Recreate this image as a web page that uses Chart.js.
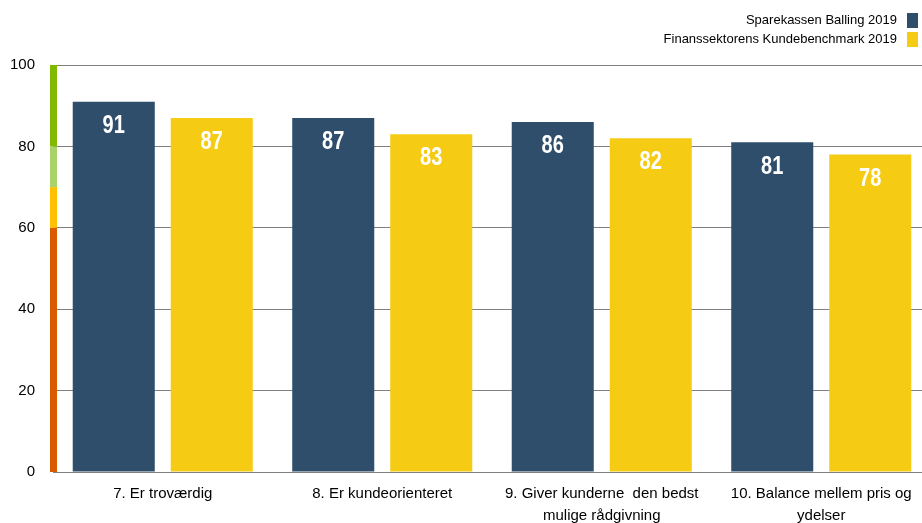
<!DOCTYPE html>
<html>
<head>
<meta charset="utf-8">
<script src="https://cdn.jsdelivr.net/npm/chart.js@4.4.1/dist/chart.umd.min.js"></script>
<style>
  html, body { margin: 0; padding: 0; background: #ffffff; overflow: hidden; }
  #wrap { width: 922px; height: 523px; position: relative; overflow: hidden; }
  #c { position: absolute; left: 0; top: 0; }
</style>
</head>
<body>
<div id="wrap"><canvas id="c" width="931" height="523"></canvas></div>
<script>
// Question labels (multi-line where the text wraps)
const categories = [
  '7. Er troværdig',
  '8. Er kundeorienteret',
  ['9. Giver kunderne  den bedst', 'mulige rådgivning'],
  ['10. Balance mellem pris og', 'ydelser']
];
const seriesNames = ['Sparekassen Balling 2019', 'Finanssektorens Kundebenchmark 2019'];
const ballingValues = [91, 87, 86, 81];
const benchmarkValues = [87, 83, 82, 78];
const yTicks = [0, 20, 40, 60, 80, 100];

// Score bands shown as a coloured strip beside the value axis
const bandLimits = [0, 60, 70, 80, 100];
const bandColors = ['#D95B00', '#FFC000', '#A9D36A', '#7FBA00'];

const BLUE = '#2E4E6B';
const YELLOW = '#F6CB14';

const scoreBands = {
  id: 'scoreBands',
  afterDraw(chart) {
    const { ctx, chartArea } = chart;
    const y = chart.scales.y;
    ctx.save();
    for (let i = 0; i < bandColors.length; i++) {
      const top = y.getPixelForValue(bandLimits[i + 1]);
      const bottom = y.getPixelForValue(bandLimits[i]);
      ctx.fillStyle = bandColors[i];
      ctx.fillRect(chartArea.left - 3, top, 7, bottom - top);
    }
    ctx.restore();
  }
};

const valueLabels = {
  id: 'valueLabels',
  afterDatasetsDraw(chart) {
    const { ctx } = chart;
    ctx.save();
    ctx.fillStyle = '#ffffff';
    ctx.textAlign = 'center';
    ctx.textBaseline = 'middle';
    ctx.font = 'bold 26px "Liberation Sans", Arial, sans-serif';
    chart.data.datasets.forEach((ds, di) => {
      chart.getDatasetMeta(di).data.forEach((bar, i) => {
        // condensed figures
        ctx.save();
        ctx.translate(bar.x, bar.y + 24);
        ctx.scale(0.77, 1);
        ctx.fillText(String(ds.data[i]), 0, 0);
        ctx.restore();
      });
    });
    ctx.restore();
  }
};

const cornerLegend = {
  id: 'cornerLegend',
  afterDraw(chart) {
    const { ctx } = chart;
    ctx.save();
    ctx.font = '13px "Liberation Sans", Arial, sans-serif';
    ctx.textAlign = 'right';
    ctx.textBaseline = 'middle';
    chart.data.datasets.forEach((ds, i) => {
      const cy = 20 + i * 19;
      ctx.fillStyle = '#000000';
      ctx.fillText(ds.label, 897, cy);
      ctx.fillStyle = ds.backgroundColor;
      ctx.fillRect(907, cy - 7, 11, 15);
    });
    ctx.restore();
  }
};

new Chart(document.getElementById('c'), {
  type: 'bar',
  data: {
    labels: categories,
    datasets: [
      { label: seriesNames[0], data: ballingValues, backgroundColor: BLUE },
      { label: seriesNames[1], data: benchmarkValues, backgroundColor: YELLOW }
    ]
  },
  options: {
    responsive: false,
    devicePixelRatio: 1,
    animation: false,
    categoryPercentage: 0.893,
    barPercentage: 0.837,
    layout: { padding: { top: 65, left: 0, right: 0, bottom: 0 } },
    plugins: {
      legend: { display: false },
      tooltip: { enabled: false }
    },
    scales: {
      x: {
        grid: { display: false, drawTicks: false },
        border: { display: true, color: '#808080', width: 1 },
        ticks: {
          color: '#000000',
          padding: 11,
          maxRotation: 0,
          autoSkip: false,
          font: { family: '"Liberation Sans", Arial, sans-serif', size: 15, lineHeight: 1.45 }
        },
        afterFit(scale) { scale.height = 51; }
      },
      y: {
        min: 0,
        max: 100,
        afterBuildTicks(scale) { scale.ticks = yTicks.map(v => ({ value: v })); },
        grid: { color: '#808080', lineWidth: 1, drawTicks: false },
        border: { display: false },
        ticks: {
          color: '#000000',
          padding: 18,
          font: { family: '"Liberation Sans", Arial, sans-serif', size: 15 }
        },
        afterFit(scale) { scale.width = 53; }
      }
    }
  },
  plugins: [scoreBands, valueLabels, cornerLegend]
});
</script>
</body>
</html>
